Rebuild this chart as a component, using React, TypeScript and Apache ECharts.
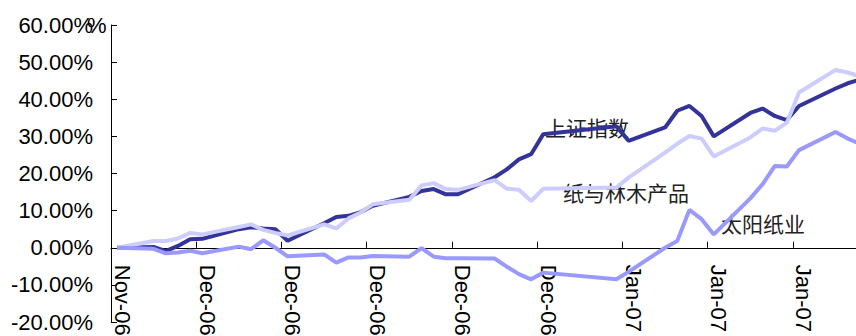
import React, { useEffect, useRef } from "react";
import * as echarts from "echarts";

const dates = [
  "2006-11-24", "2006-11-27", "2006-11-28", "2006-11-29", "2006-11-30", "2006-12-01",
  "2006-12-04", "2006-12-05", "2006-12-06", "2006-12-07", "2006-12-08",
  "2006-12-11", "2006-12-12", "2006-12-13", "2006-12-14", "2006-12-15",
  "2006-12-18", "2006-12-19", "2006-12-20", "2006-12-21", "2006-12-22",
  "2006-12-25", "2006-12-26", "2006-12-27", "2006-12-28", "2006-12-29",
  "2007-01-04", "2007-01-05",
  "2007-01-08", "2007-01-09", "2007-01-10", "2007-01-11", "2007-01-12",
  "2007-01-15", "2007-01-16", "2007-01-17", "2007-01-18", "2007-01-19",
  "2007-01-22", "2007-01-23", "2007-01-24",
];

// 上证指数 (%)
const shIndex = [
  0, 0.2, -0.9, 0.5, 2.3, 2.4,
  5.0, 5.5, 5.2, 5.0, 1.9,
  6.6, 8.3, 8.6, 9.6, 11.3,
  13.7, 15.3, 15.8, 14.4, 14.4,
  19.0, 21.1, 23.8, 25.2, 30.6,
  32.7, 28.8,
  32.4, 36.9, 38.2, 35.5, 30.0,
  36.3, 37.5, 35.5, 34.4, 38.2,
  42.9, 44.3, 45.3,
];

// 纸与林木产品 (%)
const paperForest = [
  0, 1.8, 1.8, 2.5, 4.0, 3.6,
  5.6, 6.3, 4.8, 4.0, 3.3,
  6.3, 5.2, 7.9, 9.5, 11.7,
  12.9, 16.8, 17.4, 15.8, 15.6,
  18.2, 15.9, 15.6, 12.6, 15.9,
  16.2, 18.9,
  25.6, 28.0, 30.1, 29.4, 24.6,
  29.7, 32.1, 31.5, 33.7, 41.8,
  47.9, 47.2, 46.2,
];

// 太阳纸业 (%)
const sunPaper = [
  0, -0.3, -1.5, -1.3, -0.8, -1.5,
  0.3, -0.4, 2.0, 0.0, -2.3,
  -1.8, -4.0, -2.6, -2.6, -2.2,
  -2.4, -0.1, -2.4, -2.8, -2.8,
  -2.9, -5.1, -7.1, -8.5, -6.7,
  -8.5, -6.5,
  0.0, 1.8, 10.2, 7.7, 3.6,
  13.3, 17.1, 22.0, 21.9, 26.3,
  31.2, 29.4, 28.0,
];

const xTickLabels = [
  "Nov-06", "Dec-06", "Dec-06", "Dec-06", "Dec-06", "Dec-06", "Jan-07", "Jan-07", "Jan-07",
];

const seriesNames = ["上证指数", "纸与林木产品", "太阳纸业"];
const yUnit = "%";

const baseTime = Date.parse(dates[0]);
const dayOf = (d: string) => (Date.parse(d) - baseTime) / 86400000 + 0.5;
const toPairs = (vals: number[]) => dates.map((d, i) => [dayOf(d), vals[i]]);

export default function App() {
  const ref = useRef<HTMLDivElement>(null);
  useEffect(() => {
    if (!ref.current) return;
    const chart = echarts.init(ref.current, null, { renderer: "svg" });
    const labelFont = "Liberation Sans, Arial, sans-serif";
    const cjkFont = '21px "Noto Sans CJK SC"';
    const yMin = -20;
    const yMax = 60;
    const gridTop = 25;
    const gridBottom = 14;
    const plotH = 336 - gridTop - gridBottom;
    const zeroOffset = -((0 - yMin) / (yMax - yMin)) * plotH;
    chart.setOption({
      animation: false,
      backgroundColor: "#ffffff",
      grid: {
        left: 111,
        right: -10,
        top: gridTop,
        bottom: gridBottom,
        containLabel: false,
        outerBoundsMode: "none",
      },
      xAxis: {
        type: "value",
        min: 0,
        max: 62,
        interval: 7,
        offset: zeroOffset,
        axisLine: { show: true, onZero: false, lineStyle: { color: "#000", width: 1 } },
        axisTick: { show: true, inside: true, length: 6, lineStyle: { color: "#000" } },
        splitLine: { show: false },
        axisLabel: {
          rotate: -90,
          margin: 17,
          fontSize: 22,
          color: "#000",
          fontFamily: labelFont,
          verticalAlign: "bottom",
          formatter: (v: number) => (v % 7 === 0 && xTickLabels[v / 7] ? xTickLabels[v / 7] : ""),
        },
      },
      yAxis: {
        type: "value",
        min: yMin,
        max: yMax,
        interval: 10,
        axisLine: { show: true, lineStyle: { color: "#000", width: 1 } },
        axisTick: { show: true, inside: true, length: 6, lineStyle: { color: "#000" } },
        splitLine: { show: false },
        axisLabel: {
          margin: 18,
          fontSize: 22,
          color: "#000",
          fontFamily: labelFont,
          formatter: (v: number) => v.toFixed(2) + "%",
        },
      },
      series: [
        {
          name: seriesNames[0],
          type: "line",
          data: toPairs(shIndex),
          showSymbol: false,
          lineStyle: { color: "#333399", width: 4 },
          itemStyle: { color: "#333399" },
        },
        {
          name: seriesNames[1],
          type: "line",
          data: toPairs(paperForest),
          showSymbol: false,
          lineStyle: { color: "#ccccff", width: 4 },
          itemStyle: { color: "#ccccff" },
        },
        {
          name: seriesNames[2],
          type: "line",
          data: toPairs(sunPaper),
          showSymbol: false,
          lineStyle: { color: "#9999ff", width: 4 },
          itemStyle: { color: "#9999ff" },
        },
      ],
      graphic: [
        {
          type: "text",
          left: 87,
          top: 14,
          style: { text: yUnit, font: "22px Liberation Sans, Arial, sans-serif", fill: "#000" },
        },
        { type: "text", left: 545, top: 116, style: { text: seriesNames[0], font: cjkFont, fill: "#222" } },
        { type: "text", left: 563, top: 181, style: { text: seriesNames[1], font: cjkFont, fill: "#222" } },
        { type: "text", left: 721, top: 212, style: { text: seriesNames[2], font: cjkFont, fill: "#222" } },
      ],
    });
    return () => chart.dispose();
  }, []);
  return (
    <div
      ref={ref}
      style={{ position: "absolute", left: 0, top: 0, width: 856, height: 336, background: "#fff" }}
    />
  );
}
